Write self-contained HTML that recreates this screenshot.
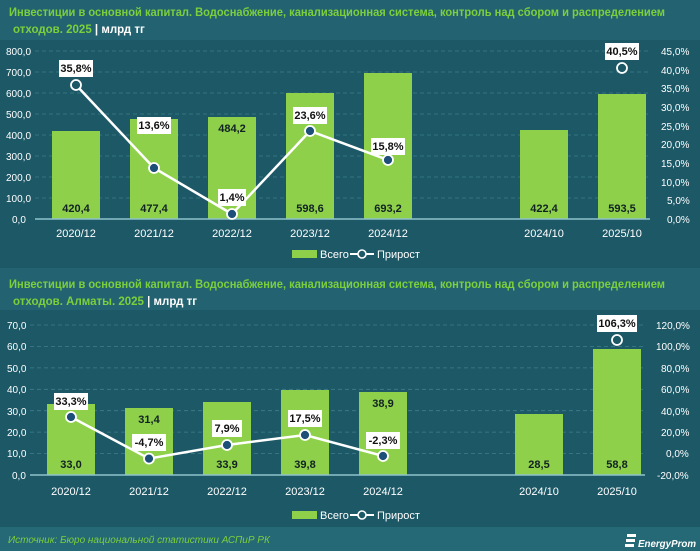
<!DOCTYPE html>
<html><head><meta charset="utf-8"><style>
html,body{margin:0;padding:0;background:#1c5866;}
svg{display:block;font-family:"Liberation Sans",sans-serif;}
</style></head><body>
<svg width="700" height="551" viewBox="0 0 700 551" xmlns="http://www.w3.org/2000/svg">
<rect width="700" height="551" fill="#1c5866"/>
<rect x="0" y="0" width="700" height="40" fill="#236371"/>
<rect x="0" y="268" width="700" height="42" fill="#236371"/>
<rect x="0" y="527" width="700" height="24" fill="#256876"/>

<g font-weight="bold" font-size="11.5" fill="#7ccf3c">
<text x="9" y="16" textLength="656" lengthAdjust="spacingAndGlyphs">Инвестиции в основной капитал. Водоснабжение, канализационная система, контроль над сбором и распределением</text>
<text x="13" y="33">отходов. 2025 <tspan fill="#fff">| млрд тг</tspan></text>
<text x="9" y="288" textLength="656" lengthAdjust="spacingAndGlyphs">Инвестиции в основной капитал. Водоснабжение, канализационная система, контроль над сбором и распределением</text>
<text x="13" y="305">отходов. Алматы. 2025 <tspan fill="#fff">| млрд тг</tspan></text>
</g>

<g stroke="#3f7e8b" stroke-dasharray="4,3" stroke-width="0.8">
<line x1="35" x2="650" y1="51" y2="51"/><line x1="35" x2="650" y1="72" y2="72"/>
<line x1="35" x2="650" y1="93" y2="93"/><line x1="35" x2="650" y1="114" y2="114"/>
<line x1="35" x2="650" y1="135" y2="135"/><line x1="35" x2="650" y1="156" y2="156"/>
<line x1="35" x2="650" y1="177" y2="177"/><line x1="35" x2="650" y1="198" y2="198"/>
</g>
<g font-size="10" fill="#fff">
<text x="6" y="55">800,0</text><text x="6" y="76">700,0</text><text x="6" y="97">600,0</text>
<text x="6" y="118">500,0</text><text x="6" y="139">400,0</text><text x="6" y="160">300,0</text>
<text x="6" y="181">200,0</text><text x="6" y="202">100,0</text><text x="12" y="223">0,0</text>
<text x="661" y="55">45,0%</text><text x="661" y="74">40,0%</text><text x="661" y="92">35,0%</text>
<text x="661" y="111">30,0%</text><text x="661" y="130">25,0%</text><text x="661" y="148">20,0%</text>
<text x="661" y="167">15,0%</text><text x="661" y="186">10,0%</text><text x="667" y="204">5,0%</text>
<text x="667" y="223">0,0%</text>
</g>
<g fill="#8ed04a">
<rect x="52" y="131" width="48" height="88"/>
<rect x="130" y="119" width="48" height="100"/>
<rect x="208" y="117" width="48" height="102"/>
<rect x="286" y="93" width="48" height="126"/>
<rect x="364" y="73" width="48" height="146"/>
<rect x="520" y="130" width="48" height="89"/>
<rect x="598" y="94" width="48" height="125"/>
</g>
<line x1="35" x2="650" y1="219" y2="219" stroke="#8fc3cc" stroke-width="1.5"/>
<g font-size="11" font-weight="bold" fill="#122" text-anchor="middle">
<text x="76" y="212">420,4</text><text x="154" y="212">477,4</text><text x="232" y="132">484,2</text>
<text x="310" y="212">598,6</text><text x="388" y="212">693,2</text><text x="544" y="212">422,4</text>
<text x="622" y="212">593,5</text>
</g>
<g font-size="11" fill="#fff" text-anchor="middle">
<text x="76" y="237">2020/12</text><text x="154" y="237">2021/12</text><text x="232" y="237">2022/12</text>
<text x="310" y="237">2023/12</text><text x="388" y="237">2024/12</text><text x="544" y="237">2024/10</text>
<text x="622" y="237">2025/10</text>
</g>
<polyline points="76,85 154,168 232,214 310,131 388,160" fill="none" stroke="#fff" stroke-width="2.5"/>
<g stroke="#fff" stroke-width="1.8">
<circle cx="76" cy="85" r="5" fill="#1c5866"/>
<circle cx="154" cy="168" r="5" fill="#1d4f78"/>
<circle cx="232" cy="214" r="5" fill="#1d4f78"/>
<circle cx="310" cy="131" r="5" fill="#1d4f78"/>
<circle cx="388" cy="160" r="5" fill="#1d4f78"/>
<circle cx="622" cy="68" r="5" fill="#1c5866"/>
</g>
<g fill="#fff">
<rect x="59" y="60" width="34" height="17"/><rect x="137" y="117" width="34" height="17"/>
<rect x="218" y="189" width="28" height="17"/><rect x="293" y="107" width="34" height="17"/>
<rect x="371" y="138" width="34" height="17"/><rect x="605" y="43" width="34" height="17"/>
</g>
<g font-size="11" font-weight="bold" fill="#111" text-anchor="middle">
<text x="76" y="72">35,8%</text><text x="154" y="129">13,6%</text><text x="232" y="201">1,4%</text>
<text x="310" y="119">23,6%</text><text x="388" y="150">15,8%</text><text x="622" y="55">40,5%</text>
</g>
<rect x="292" y="250" width="25" height="8" fill="#8ed04a"/>
<text x="320" y="258" font-size="11" fill="#fff">Всего</text>
<line x1="350" x2="374" y1="254" y2="254" stroke="#fff" stroke-width="2"/>
<circle cx="362" cy="254" r="4" fill="#1c5866" stroke="#fff" stroke-width="1.6"/>
<text x="377" y="258" font-size="11" fill="#fff">Прирост</text>

<g stroke="#3f7e8b" stroke-dasharray="4,3" stroke-width="0.8">
<line x1="30" x2="645" y1="325" y2="325"/><line x1="30" x2="645" y1="346.4" y2="346.4"/>
<line x1="30" x2="645" y1="367.9" y2="367.9"/><line x1="30" x2="645" y1="389.3" y2="389.3"/>
<line x1="30" x2="645" y1="410.7" y2="410.7"/><line x1="30" x2="645" y1="432.1" y2="432.1"/>
<line x1="30" x2="645" y1="453.6" y2="453.6"/>
</g>
<g font-size="10" fill="#fff">
<text x="7" y="329">70,0</text><text x="7" y="350">60,0</text><text x="7" y="372">50,0</text>
<text x="7" y="393">40,0</text><text x="7" y="415">30,0</text><text x="7" y="436">20,0</text>
<text x="7" y="457">10,0</text><text x="12" y="479">0,0</text>
<text x="656" y="329">120,0%</text><text x="656" y="350">100,0%</text><text x="661" y="372">80,0%</text>
<text x="661" y="393">60,0%</text><text x="661" y="415">40,0%</text><text x="661" y="436">20,0%</text>
<text x="666" y="457">0,0%</text><text x="657" y="479">-20,0%</text>
</g>
<g fill="#8ed04a">
<rect x="47" y="404" width="48" height="71"/>
<rect x="125" y="408" width="48" height="67"/>
<rect x="203" y="402" width="48" height="73"/>
<rect x="281" y="390" width="48" height="85"/>
<rect x="359" y="392" width="48" height="83"/>
<rect x="515" y="414" width="48" height="61"/>
<rect x="593" y="349" width="48" height="126"/>
</g>
<line x1="30" x2="645" y1="475" y2="475" stroke="#8fc3cc" stroke-width="1.5"/>
<g font-size="11" font-weight="bold" fill="#122" text-anchor="middle">
<text x="71" y="468">33,0</text><text x="149" y="423">31,4</text><text x="227" y="468">33,9</text>
<text x="305" y="468">39,8</text><text x="383" y="407">38,9</text><text x="539" y="468">28,5</text>
<text x="617" y="468">58,8</text>
</g>
<g font-size="11" fill="#fff" text-anchor="middle">
<text x="71" y="495">2020/12</text><text x="149" y="495">2021/12</text><text x="227" y="495">2022/12</text>
<text x="305" y="495">2023/12</text><text x="383" y="495">2024/12</text><text x="539" y="495">2024/10</text>
<text x="617" y="495">2025/10</text>
</g>
<polyline points="71,417 149,458.6 227,445 305,435 383,456" fill="none" stroke="#fff" stroke-width="2.5"/>
<g stroke="#fff" stroke-width="1.8">
<circle cx="71" cy="417" r="5" fill="#1d4f78"/>
<circle cx="149" cy="458.6" r="5" fill="#1d4f78"/>
<circle cx="227" cy="445" r="5" fill="#1d4f78"/>
<circle cx="305" cy="435" r="5" fill="#1d4f78"/>
<circle cx="383" cy="456" r="5" fill="#1d4f78"/>
<circle cx="617" cy="340" r="5" fill="#1c5866"/>
</g>
<g fill="#fff">
<rect x="54" y="393" width="34" height="17"/><rect x="132" y="434" width="34" height="17"/>
<rect x="212" y="420" width="30" height="17"/><rect x="288" y="410" width="34" height="17"/>
<rect x="366" y="432" width="34" height="17"/><rect x="597" y="315" width="40" height="17"/>
</g>
<g font-size="11" font-weight="bold" fill="#111" text-anchor="middle">
<text x="71" y="405">33,3%</text><text x="149" y="446">-4,7%</text><text x="227" y="432">7,9%</text>
<text x="305" y="422">17,5%</text><text x="383" y="444">-2,3%</text><text x="617" y="327">106,3%</text>
</g>
<rect x="292" y="511" width="25" height="8" fill="#8ed04a"/>
<text x="320" y="519" font-size="11" fill="#fff">Всего</text>
<line x1="350" x2="374" y1="515" y2="515" stroke="#fff" stroke-width="2"/>
<circle cx="362" cy="515" r="4" fill="#1c5866" stroke="#fff" stroke-width="1.6"/>
<text x="377" y="519" font-size="11" fill="#fff">Прирост</text>

<text x="8" y="543" font-size="10" font-style="italic" fill="#7ccf3c">Источник: Бюро национальной статистики АСПиР РК</text>
<g fill="#fff">
<rect x="627" y="534" width="9" height="3"/><rect x="626" y="539" width="9" height="3"/><rect x="625" y="544" width="9" height="3"/>
<text x="638" y="547" font-size="10.5" font-weight="bold" font-style="italic" textLength="58" lengthAdjust="spacingAndGlyphs">EnergyProm</text>
</g>
</svg>
</body></html>
